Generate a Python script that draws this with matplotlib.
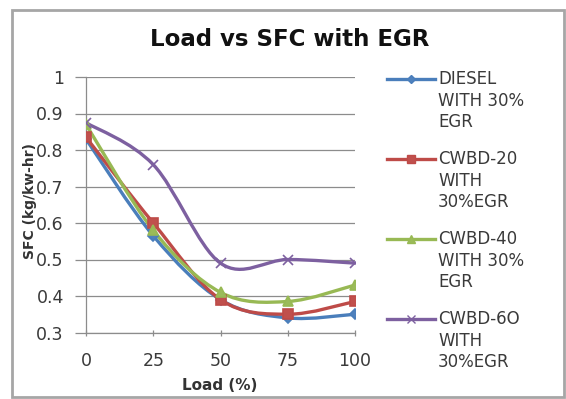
import numpy as np
import matplotlib.pyplot as plt
from matplotlib.path import Path
from matplotlib.patches import PathPatch, Rectangle
from matplotlib.lines import Line2D

load = [0, 25, 50, 75, 100]
diesel = [0.83, 0.565, 0.39, 0.34, 0.35]
cwbd20 = [0.835, 0.60, 0.39, 0.35, 0.385]
cwbd40 = [0.87, 0.58, 0.41, 0.385, 0.43]
cwbd60 = [0.875, 0.76, 0.49, 0.50, 0.49]

labels = ["DIESEL\nWITH 30%\nEGR", "CWBD-20\nWITH\n30%EGR",
          "CWBD-40\nWITH 30%\nEGR", "CWBD-6O\nWITH\n30%EGR"]
line_colors = ["#4A7EBB", "#BE4B48", "#98B954", "#7D60A0"]
fill_colors = ["#4F81BD", "#C0504D", "#9BBB59", "#8064A2"]
markers = ["D", "s", "^", "x"]
msizes = [5.5, 7.5, 7, 7]

W, H = 566, 399


def smooth_path(x, y):
    """cubic bezier through the points, spreadsheet style smoothing"""
    pts = np.column_stack([x, y]).astype(float)
    padded = np.vstack([pts[0], pts, pts[-1]])
    verts = [pts[0]]
    codes = [Path.MOVETO]
    for i in range(len(pts) - 1):
        p0, p1, p2, p3 = padded[i], padded[i + 1], padded[i + 2], padded[i + 3]
        c1 = p1 + (p2 - p0) / 6.0
        c2 = p2 - (p3 - p1) / 6.0
        verts += [c1, c2, p2]
        codes += [Path.CURVE4] * 3
    return Path(verts, codes)


def plot_sfc():
    fig = plt.figure(figsize=(W / 100, H / 100), dpi=100)
    ax = fig.add_axes([86 / W, 1 - 332.5 / H, (355 - 86) / W, (332.5 - 77) / H])

    series = [diesel, cwbd20, cwbd40, cwbd60]
    for vals, lc, fc, m, ms in zip(series, line_colors, fill_colors, markers, msizes):
        ax.add_patch(PathPatch(smooth_path(load, vals), fill=False,
                               edgecolor=lc, lw=2.4, zorder=3))
        ax.plot(load, vals, linestyle='none', marker=m, markersize=ms,
                color=fc, markeredgecolor=lc, markeredgewidth=1.2, zorder=4)

    ax.set_xlim(0, 100)
    ax.set_ylim(0.3, 1.0)
    ax.set_xticks(load)
    ax.set_xticklabels([str(v) for v in load])
    ax.set_yticks([0.3, 0.4, 0.5, 0.6, 0.7, 0.8, 0.9, 1.0])
    ax.set_yticklabels(["0.3", "0.4", "0.5", "0.6", "0.7", "0.8", "0.9", "1"])
    ax.yaxis.grid(True, color='#8c8c8c', lw=0.9)
    ax.set_axisbelow(True)
    for side in ['top', 'right']:
        ax.spines[side].set_visible(False)
    for side in ['left', 'bottom']:
        ax.spines[side].set_color('#8c8c8c')
        ax.spines[side].set_linewidth(0.9)
    ax.tick_params(axis='y', direction='out', length=8, width=0.9,
                   color='#8c8c8c', pad=8, labelsize=12.5, labelcolor='#3a3a3a')
    ax.tick_params(axis='x', direction='inout', length=4, width=0.9,
                   color='#8c8c8c', pad=12, labelsize=12.5, labelcolor='#3a3a3a')

    fig.text(290 / W, 1 - 40 / H, "Load vs SFC with EGR", ha='center', va='center',
             fontsize=16.5, fontweight='bold', color='#111111')
    fig.text(220 / W, 1 - 386 / H, "Load (%)", ha='center', va='center',
             fontsize=11, fontweight='bold', color='#333333')
    fig.text(30 / W, 1 - 201 / H, "SFC (kg/kw-hr)", ha='center', va='center',
             rotation=90, fontsize=10, fontweight='bold', color='#333333')

    # legend, handle level with the first text line
    for k, (lab, lc, fc, m, ms) in enumerate(zip(labels, line_colors, fill_colors, markers, msizes)):
        y = 1 - (79 + 80 * k) / H
        fig.add_artist(Line2D([387 / W, 435 / W], [y, y], color=lc, lw=2.4))
        fig.add_artist(Line2D([411 / W], [y], marker=m, markersize=ms * 0.8,
                              color=fc, markeredgecolor=lc, markeredgewidth=1.0))
        fig.text(438 / W, y + 9 / H, lab, ha='left', va='top', fontsize=12,
                 color='#3a3a3a', linespacing=1.25)

    fig.add_artist(Rectangle((12 / W, 2 / H), (564 - 12) / W, (389 - 2) / H,
                             transform=fig.transFigure, fill=False,
                             edgecolor='#a6a6a6', lw=2))
    fig.savefig("out.png", dpi=100)


if __name__ == "__main__":
    plot_sfc()
